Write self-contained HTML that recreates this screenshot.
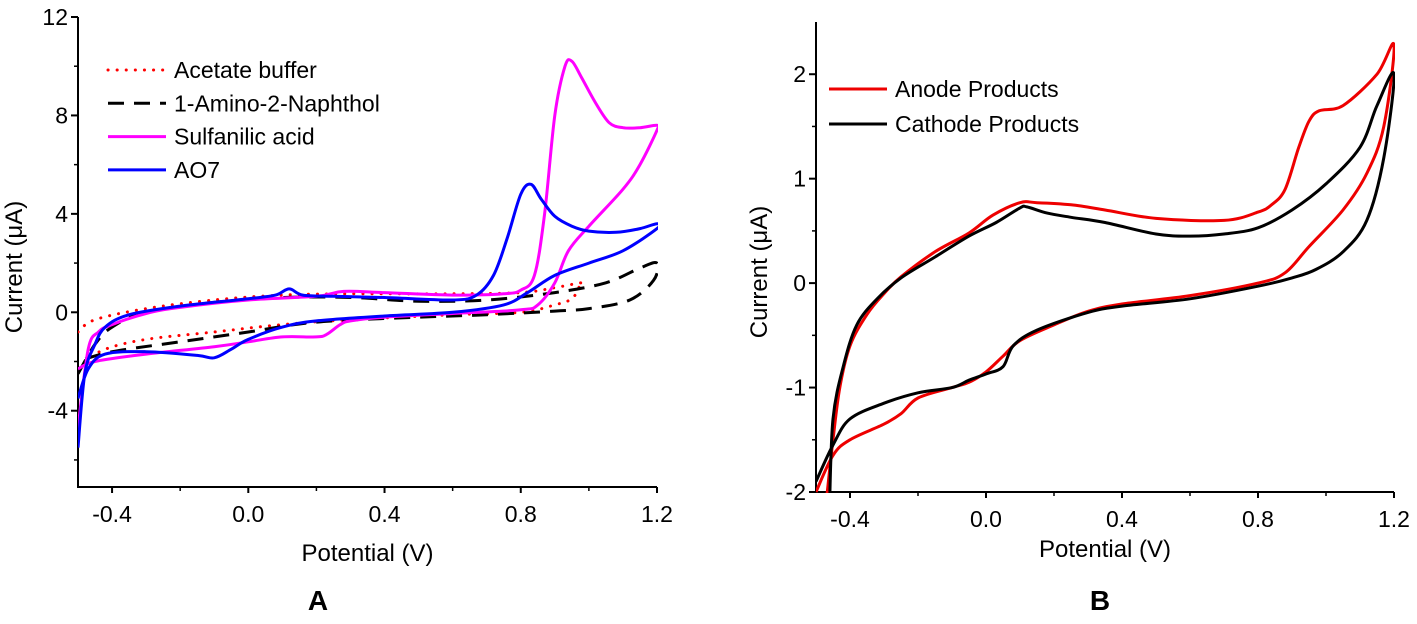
<!DOCTYPE html>
<html><head><meta charset="utf-8"><style>
body{margin:0;background:#fff}
svg text{font-family:"Liberation Sans",Arial,sans-serif;fill:#000}
</style></head><body>
<svg id="svg" width="1417" height="619" xmlns="http://www.w3.org/2000/svg">
<defs>
<clipPath id="clipA"><rect x="78" y="10" width="580" height="478"/></clipPath>
<clipPath id="clipB"><rect x="816" y="15" width="579" height="478"/></clipPath>
</defs>
<g id="gA"></g>
<g id="gB"></g>
</svg>
<script>
// Panel A data
const aXTicks=[-0.4,0.0,0.4,0.8,1.2];
const aXTickLabels=["-0.4","0.0","0.4","0.8","1.2"];
const aYTicks=[12,8,4,0,-4];
const aYTickLabels=["12","8","4","0","-4"];
const aBuffer=[[-0.5,-0.8],[-0.45,-0.3],[-0.3,0.15],[-0.1,0.5],[0.1,0.7],[0.3,0.75],[0.6,0.75],[0.8,0.8],[0.9,1.0],[0.98,1.2],[0.97,1.0],[0.95,0.55],[0.9,0.3],[0.8,0.0],[0.6,-0.1],[0.3,-0.3],[0.1,-0.5],[-0.1,-0.8],[-0.3,-1.1],[-0.42,-1.5],[-0.48,-2.0]];
const aAmino=[[-0.5,-2.5],[-0.45,-1.3],[-0.4,-0.6],[-0.3,0],[-0.1,0.4],[0.1,0.6],[0.3,0.6],[0.5,0.45],[0.7,0.5],[0.9,0.8],[1.05,1.2],[1.15,1.8],[1.2,2.0],[1.19,1.3],[1.12,0.5],[1.0,0.15],[0.9,0.05],[0.7,-0.1],[0.5,-0.2],[0.2,-0.4],[0,-0.8],[-0.2,-1.2],[-0.4,-1.6],[-0.5,-2.0]];
const aSulf=[[-0.5,-4.7],[-0.47,-1.5],[-0.44,-0.8],[-0.4,-0.5],[-0.3,-0.05],[-0.2,0.2],[0,0.5],[0.2,0.65],[0.28,0.85],[0.4,0.8],[0.6,0.7],[0.75,0.75],[0.8,0.9],[0.84,1.5],[0.87,4],[0.9,8],[0.93,10],[0.95,10.2],[0.98,9.5],[1.02,8.5],[1.06,7.7],[1.1,7.5],[1.15,7.5],[1.2,7.6],[1.2,7.4],[1.15,6],[1.1,5],[1.0,3.5],[0.94,2.5],[0.9,1.2],[0.85,0.3],[0.8,0.1],[0.6,-0.05],[0.4,-0.2],[0.3,-0.35],[0.27,-0.5],[0.23,-0.9],[0.2,-1.0],[0.1,-1.0],[0,-1.2],[-0.1,-1.4],[-0.3,-1.7],[-0.45,-2.0],[-0.5,-2.3]];
const aAO7=[[-0.5,-5.5],[-0.48,-2.5],[-0.45,-1.3],[-0.42,-0.6],[-0.35,-0.1],[-0.2,0.25],[0,0.55],[0.08,0.7],[0.12,0.95],[0.16,0.7],[0.25,0.65],[0.4,0.6],[0.6,0.5],[0.67,0.7],[0.72,1.5],[0.76,3],[0.8,4.8],[0.83,5.2],[0.86,4.6],[0.9,3.9],[0.95,3.5],[1.0,3.3],[1.08,3.25],[1.15,3.4],[1.2,3.6],[1.2,3.4],[1.1,2.5],[1.0,2.0],[0.9,1.5],[0.82,0.8],[0.75,0.3],[0.6,0],[0.4,-0.15],[0.2,-0.35],[0.1,-0.6],[0.0,-1.1],[-0.05,-1.5],[-0.1,-1.85],[-0.15,-1.75],[-0.3,-1.6],[-0.42,-1.7],[-0.47,-2.3],[-0.5,-3.5]];
// Panel B data
const bXTicks=[-0.4,0.0,0.4,0.8,1.2];
const bXTickLabels=["-0.4","0.0","0.4","0.8","1.2"];
const bYTicks=[2,1,0,-1,-2];
const bYTickLabels=["2","1","0","-1","-2"];
const bAnode=[[-0.5,-2.0],[-0.45,-1.65],[-0.4,-1.5],[-0.3,-1.35],[-0.25,-1.25],[-0.2,-1.1],[-0.1,-1.0],[-0.05,-0.95],[0,-0.85],[0.05,-0.7],[0.1,-0.55],[0.2,-0.4],[0.3,-0.27],[0.4,-0.2],[0.6,-0.12],[0.8,0],[0.88,0.1],[0.95,0.35],[1.05,0.7],[1.12,1.05],[1.17,1.5],[1.2,2.28],[1.15,2.0],[1.05,1.7],[0.98,1.65],[0.95,1.55],[0.92,1.3],[0.88,0.9],[0.84,0.75],[0.8,0.68],[0.7,0.6],[0.5,0.62],[0.35,0.7],[0.25,0.75],[0.15,0.77],[0.1,0.77],[0.02,0.65],[-0.05,0.48],[-0.15,0.3],[-0.25,0.06],[-0.3,-0.1],[-0.35,-0.3],[-0.4,-0.6],[-0.43,-1.0],[-0.45,-1.5],[-0.47,-2.1]];
const bCathode=[[-0.5,-1.9],[-0.45,-1.55],[-0.4,-1.3],[-0.3,-1.15],[-0.2,-1.05],[-0.1,-1.0],[-0.05,-0.93],[0,-0.87],[0.05,-0.8],[0.08,-0.6],[0.15,-0.45],[0.3,-0.28],[0.4,-0.22],[0.6,-0.15],[0.8,-0.03],[0.9,0.05],[0.97,0.13],[1.05,0.3],[1.12,0.6],[1.17,1.2],[1.2,2.0],[1.15,1.7],[1.1,1.3],[1.0,0.95],[0.9,0.7],[0.8,0.53],[0.7,0.47],[0.6,0.45],[0.5,0.47],[0.35,0.58],[0.25,0.63],[0.18,0.67],[0.12,0.73],[0.1,0.72],[0.03,0.58],[-0.05,0.45],[-0.15,0.25],[-0.25,0.05],[-0.32,-0.15],[-0.38,-0.4],[-0.42,-0.8],[-0.45,-1.3],[-0.46,-2.1]];

const NS="http://www.w3.org/2000/svg";
function mk(tag,attrs,parent){const e=document.createElementNS(NS,tag);for(const k in attrs)e.setAttribute(k,attrs[k]);parent.appendChild(e);return e;}
function smooth(pts){let d="M"+pts[0][0]+","+pts[0][1];for(let i=0;i<pts.length-1;i++){const p0=pts[Math.max(0,i-1)],p1=pts[i],p2=pts[i+1],p3=pts[Math.min(pts.length-1,i+2)];const c1=[p1[0]+(p2[0]-p0[0])/6,p1[1]+(p2[1]-p0[1])/6],c2=[p2[0]-(p3[0]-p1[0])/6,p2[1]-(p3[1]-p1[1])/6];d+=" C"+c1[0].toFixed(1)+","+c1[1].toFixed(1)+" "+c2[0].toFixed(1)+","+c2[1].toFixed(1)+" "+p2[0].toFixed(1)+","+p2[1].toFixed(1);}return d;}

function panel(g,cfg){
  const sx=v=>cfg.x0+(v-cfg.xmin)/(cfg.xmax-cfg.xmin)*(cfg.x1-cfg.x0);
  const sy=v=>cfg.y1-(v-cfg.ymin)/(cfg.ymax-cfg.ymin)*(cfg.y1-cfg.y0);
  const ax=mk('path',{d:`M${cfg.x0},${cfg.y0} V${cfg.y1} H${cfg.x1}`,fill:'none',stroke:'#000','stroke-width':2},g);
  
  
  cfg.xt.forEach((v,i)=>{
    const x=sx(v);
    const t=mk('line',{x1:x,y1:cfg.y1,x2:x,y2:cfg.y1+6,stroke:'#000','stroke-width':2},g);
    
    
    if(v+0.2<cfg.xmax){
    const m=mk('line',{x1:sx(v+0.2),y1:cfg.y1,x2:sx(v+0.2),y2:cfg.y1+4,stroke:'#000','stroke-width':1.5},g);
    
    }
    const l=mk('text',{x:x,y:cfg.y1+35,'font-size':23,'text-anchor':'middle'},g);l.textContent=cfg.xl[i];
    
    
  });
  cfg.yt.forEach((v,i)=>{
    const y=sy(v);
    const t=mk('line',{x1:cfg.x0-7,y1:y,x2:cfg.x0,y2:y,stroke:'#000','stroke-width':2},g);
    
    
    const yv=v-cfg.ystep/2;
    if(yv>=cfg.ymin){const m=mk('line',{x1:cfg.x0-4,y1:sy(yv),x2:cfg.x0,y2:sy(yv),stroke:'#000','stroke-width':1.5},g);
    
    }
    const l=mk('text',{x:cfg.x0-10,y:y+8,'font-size':23,'text-anchor':'end'},g);l.textContent=cfg.yl[i];
    
    
  });
  if(cfg.ymax-cfg.ystep/2>cfg.yt[0]){const m=mk('line',{x1:cfg.x0-4,y1:sy(cfg.yt[0]+cfg.ystep/2),x2:cfg.x0,y2:sy(cfg.yt[0]+cfg.ystep/2),stroke:'#000','stroke-width':1.5},g);
  
  }
  const xt=mk('text',{x:(cfg.x0+cfg.x1)/2,y:cfg.xTitleY,'font-size':24,'text-anchor':'middle'},g);xt.textContent='Potential (V)';
  
  
  const yt=mk('text',{x:0,y:0,'font-size':24,'text-anchor':'middle',transform:`translate(${cfg.yTitleX},${(cfg.y0+cfg.y1)/2+15}) rotate(-90)`},g);yt.textContent='Current (\u03bcA)';
  
  
  const cg=mk('g',{'clip-path':cfg.clip},g);
  cfg.series.forEach(s=>{
    const p=mk('path',{d:smooth(s.data.map(q=>[sx(q[0]),sy(q[1])])),fill:'none',stroke:s.color,'stroke-width':3,'stroke-dasharray':s.dash||'none','stroke-linecap':s.cap||'butt'},cg);
    
    
    const ly=cfg.legY+s.i*cfg.legDy;
    const ll=mk('line',{x1:cfg.legX,y1:ly,x2:cfg.legX+cfg.legW,y2:ly,stroke:s.color,'stroke-width':3,'stroke-dasharray':s.dash||'none','stroke-linecap':s.cap||'butt'},g);
    
    
    const lt=mk('text',{x:cfg.legX+cfg.legW+8,y:ly+8,'font-size':23},g);lt.textContent=s.label;
    
    
  });
  const pl=mk('text',{x:cfg.panelX,y:610,'font-size':28,'font-weight':'bold','text-anchor':'middle'},g);pl.textContent=cfg.panel;
  
  
}
panel(document.getElementById('gA'),{x0:78,x1:657,y0:17,y1:487,xmin:-0.5,xmax:1.2,ymin:-7.1,ymax:12,ystep:4,
  xt:aXTicks,xl:aXTickLabels,yt:aYTicks,yl:aYTickLabels,xTitleY:561,yTitleX:22,clip:'url(#clipA)',
  legX:108,legY:70,legDy:33.3,legW:58,panelX:318,panel:'A',
  series:[{i:0,name:'acetate-buffer',label:'Acetate buffer',color:'#f00',data:aBuffer,dash:'0.1 9',cap:'round'},
          {i:1,name:'amino-naphthol',label:'1-Amino-2-Naphthol',color:'#000',data:aAmino,dash:'16 10'},
          {i:2,name:'sulfanilic-acid',label:'Sulfanilic acid',color:'#f0f',data:aSulf},
          {i:3,name:'ao7',label:'AO7',color:'#00f',data:aAO7}]});
panel(document.getElementById('gB'),{x0:816,x1:1394,y0:22,y1:492,xmin:-0.5,xmax:1.2,ymin:-2,ymax:2.5,ystep:1,
  xt:bXTicks,xl:bXTickLabels,yt:bYTicks,yl:bYTickLabels,xTitleY:557,yTitleX:767,clip:'url(#clipB)',
  legX:829,legY:89,legDy:35,legW:58,panelX:1100,panel:'B',
  series:[{i:0,name:'anode-products',label:'Anode Products',color:'#e00',data:bAnode},
          {i:1,name:'cathode-products',label:'Cathode Products',color:'#000',data:bCathode}]});
</script>
</body></html>
